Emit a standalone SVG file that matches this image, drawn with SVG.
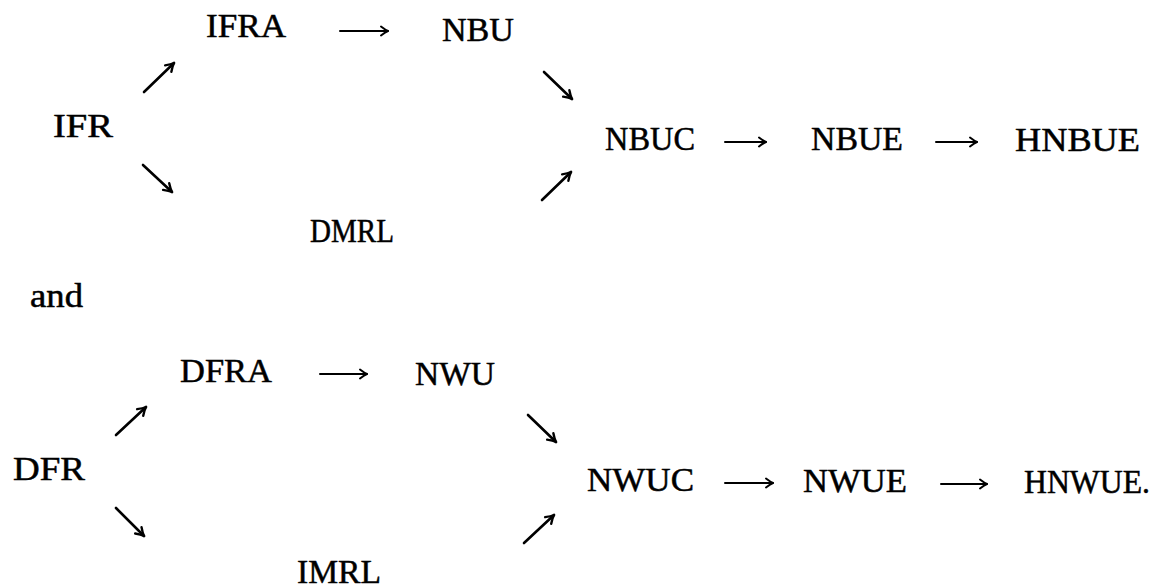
<svg xmlns="http://www.w3.org/2000/svg" width="1164" height="588" viewBox="0 0 1164 588">
  <style>
    text { font-family: "Liberation Serif", "Times New Roman", serif; fill: #000; stroke: #000; stroke-width: 0.5; }
    .t { font-size: 33px; }
    .b { font-size: 34px; }
    .h { stroke: #000; stroke-width: 2; fill: none; stroke-linecap: round; }
    .d { stroke: #000; stroke-width: 2.6; fill: none; stroke-linecap: round; }
  </style>
  <defs>
    <marker id="head" viewBox="-10 -6 12 12" markerWidth="12" markerHeight="12" refX="0" refY="0" orient="auto" markerUnits="userSpaceOnUse">
      <path d="M -7 -4.5 Q -2.5 -1 0 0 Q -2.5 1 -7 4.5" stroke="#000" stroke-width="2" fill="none" stroke-linecap="round" stroke-linejoin="round"/>
    </marker>
    <marker id="headD" viewBox="-10 -6 12 12" markerWidth="12" markerHeight="12" refX="0" refY="0" orient="auto" markerUnits="userSpaceOnUse">
      <path d="M -8 -4.5 Q -3 -1 0 0 Q -3 1 -8 4.5" stroke="#000" stroke-width="2.4" fill="none" stroke-linecap="round" stroke-linejoin="round"/>
    </marker>
  </defs>

  <!-- first chain: ageing classes -->
  <g id="IFRA"><text class="t" x="206" y="37" textLength="80" lengthAdjust="spacingAndGlyphs">IFRA</text></g>
  <g id="NBU"><text class="t" x="442" y="41" textLength="72" lengthAdjust="spacingAndGlyphs">NBU</text></g>
  <g id="IFR"><text class="t" x="53" y="137" textLength="60" lengthAdjust="spacingAndGlyphs">IFR</text></g>
  <g id="DMRL"><text class="t" x="310" y="242" textLength="84" lengthAdjust="spacingAndGlyphs">DMRL</text></g>
  <g id="NBUC"><text class="t" x="605" y="150" textLength="90" lengthAdjust="spacingAndGlyphs">NBUC</text></g>
  <g id="NBUE"><text class="t" x="811" y="150" textLength="92" lengthAdjust="spacingAndGlyphs">NBUE</text></g>
  <g id="HNBUE"><text class="t" x="1015" y="151" textLength="125" lengthAdjust="spacingAndGlyphs">HNBUE</text></g>

  <g id="and"><text class="t" x="30" y="307" textLength="53" lengthAdjust="spacingAndGlyphs">and</text></g>

  <!-- second chain: dual classes -->
  <g id="DFRA"><text class="b" x="180" y="382" textLength="92" lengthAdjust="spacingAndGlyphs">DFRA</text></g>
  <g id="NWU"><text class="b" x="415" y="385" textLength="80" lengthAdjust="spacingAndGlyphs">NWU</text></g>
  <g id="DFR"><text class="b" x="13" y="480" textLength="72" lengthAdjust="spacingAndGlyphs">DFR</text></g>
  <g id="IMRL"><text class="b" x="297" y="583" textLength="84" lengthAdjust="spacingAndGlyphs">IMRL</text></g>
  <g id="NWUC"><text class="b" x="587" y="491" textLength="107" lengthAdjust="spacingAndGlyphs">NWUC</text></g>
  <g id="NWUE"><text class="b" x="803" y="492" textLength="104" lengthAdjust="spacingAndGlyphs">NWUE</text></g>
  <g id="HNWUE"><text class="b" x="1024" y="493" textLength="126" lengthAdjust="spacingAndGlyphs">HNWUE.</text></g>

  <g id="connectors">
    <!-- horizontal implications -->
    <line class="h" x1="340" y1="31" x2="388" y2="31" marker-end="url(#head)"/>
    <line class="h" x1="725" y1="142" x2="766" y2="142" marker-end="url(#head)"/>
    <line class="h" x1="936" y1="142" x2="977" y2="142" marker-end="url(#head)"/>
    <line class="h" x1="320" y1="374" x2="367" y2="374" marker-end="url(#head)"/>
    <line class="h" x1="725" y1="483" x2="773" y2="483" marker-end="url(#head)"/>
    <line class="h" x1="941" y1="484" x2="987" y2="484" marker-end="url(#head)"/>
    <!-- diagonal implications -->
    <line class="d" x1="144" y1="92" x2="174" y2="63" marker-end="url(#headD)"/>
    <line class="d" x1="143" y1="165" x2="172" y2="192" marker-end="url(#headD)"/>
    <line class="d" x1="544" y1="72" x2="572" y2="99" marker-end="url(#headD)"/>
    <line class="d" x1="542" y1="200" x2="571" y2="172" marker-end="url(#headD)"/>
    <line class="d" x1="116" y1="435" x2="146" y2="407" marker-end="url(#headD)"/>
    <line class="d" x1="116" y1="508" x2="144" y2="536" marker-end="url(#headD)"/>
    <line class="d" x1="528" y1="415" x2="556" y2="442" marker-end="url(#headD)"/>
    <line class="d" x1="524" y1="543" x2="554" y2="515" marker-end="url(#headD)"/>
  </g>
</svg>
